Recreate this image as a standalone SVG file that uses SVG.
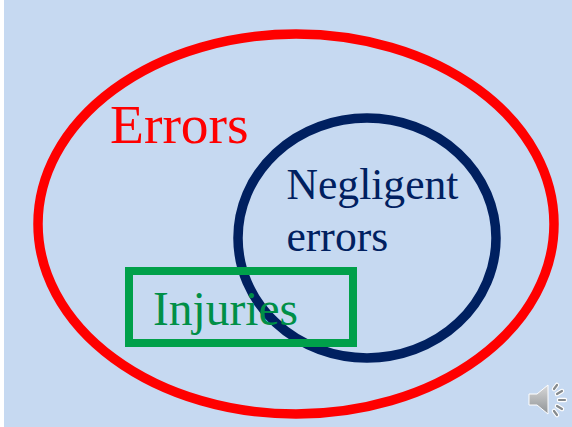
<svg xmlns="http://www.w3.org/2000/svg" width="572" height="427" viewBox="0 0 572 427">
<style>
.lbl{font-family:"Liberation Serif","Times New Roman",serif}
.shape{fill:none}
</style>
<defs><linearGradient id="g" x1="0" y1="0" x2="0" y2="1"><stop offset="0" stop-color="#d8d8d8"/><stop offset="1" stop-color="#8f9396"/></linearGradient></defs>
<rect width="572" height="427" fill="#fff"/>
<rect x="4" y="0" width="568" height="427" fill="#c6d9f1"/>
<g id="errors"><ellipse class="shape" cx="296" cy="224" rx="258" ry="190" stroke="#ff0000" stroke-width="9.5"/>
<text class="lbl" x="110" y="143" font-size="55.5" fill="#ff0000">Errors</text></g>
<g id="negligent"><ellipse class="shape" cx="367" cy="238" rx="129" ry="120" stroke="#002060" stroke-width="9.5"/>
<text class="lbl" x="286.500" y="199" font-size="43.600" fill="#002060">Negligent</text>
<text class="lbl" x="286.500" y="251" font-size="43.600" fill="#002060">errors</text></g>
<g id="injuries"><rect class="shape" x="129" y="271" width="224" height="72" stroke="#00a04a" stroke-width="8"/>
<text class="lbl" x="153" y="325" font-size="47.500" fill="#008f47">Injuries</text></g>
<g id="speaker">
<path d="M529 394h8l11-9v29l-11-9h-8z" fill="url(#g)" stroke="#fff" stroke-width="1"/>
<g stroke="#fff" stroke-width="4.500" stroke-linecap="round"><path d="M554 389l3-4M557 394l5-3M559 400h6M557 406l5 3M554 411l3 4"/></g>
<g stroke="#858a8e" stroke-width="2.200" stroke-linecap="round"><path d="M554 389l3-4M557 394l5-3M559 400h6M557 406l5 3M554 411l3 4"/></g>
</g>
</svg>
